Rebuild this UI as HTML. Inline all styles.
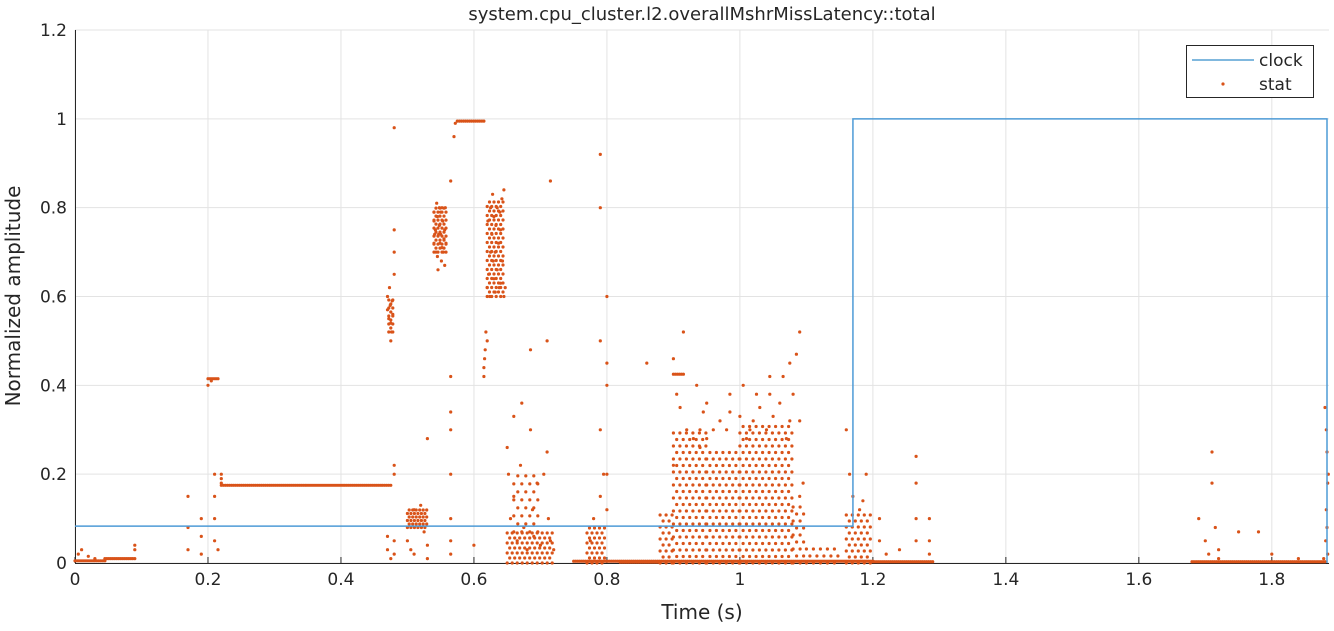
<!DOCTYPE html>
<html><head><meta charset="utf-8"><style>
body{margin:0;background:#fff;width:1334px;height:626px;overflow:hidden;font-family:"Liberation Sans","DejaVu Sans",sans-serif}
svg text{font-family:"DejaVu Sans","Liberation Sans",sans-serif;fill:#262626}
</style></head><body>
<svg id="chart" width="1334" height="626" xmlns="http://www.w3.org/2000/svg">
<g id="grid"></g>
<g id="axes"></g>
<g id="stat"></g>
<g id="clock"></g>
<text x="702" y="20" text-anchor="middle" font-size="18">system.cpu_cluster.l2.overallMshrMissLatency::total</text>
<text x="702" y="619" text-anchor="middle" font-size="20">Time (s)</text>
<text transform="translate(20,296) rotate(-90)" text-anchor="middle" font-size="20">Normalized amplitude</text>
<g>
<rect x="1186.5" y="45.5" width="127" height="52" fill="#fff" stroke="#262626" stroke-width="1"/>
<line x1="1192" y1="60" x2="1254" y2="60" stroke="#0072BD" stroke-width="1"/>
<text x="1259" y="66" font-size="17">clock</text>
<circle cx="1223" cy="84" r="1.6" fill="#D95319"/>
<text x="1259" y="90" font-size="17">stat</text>
</g>
</svg>
<script>
const xTicks=[0,0.2,0.4,0.6,0.8,1,1.2,1.4,1.6,1.8];
const xTickLabels=["0","0.2","0.4","0.6","0.8","1","1.2","1.4","1.6","1.8"];
const yTicks=[0,0.2,0.4,0.6,0.8,1,1.2];
const yTickLabels=["0","0.2","0.4","0.6","0.8","1","1.2"];
const clockX=[0,1.17,1.17,1.883,1.883];
const clockY=[0.083,0.083,1,1,0];
// flat runs of stat samples: [x start, x end, y]
const statRuns=[[0,0.045,0.005],[0.045,0.09,0.01],[0.22,0.475,0.175],[0.2,0.215,0.415],[0.575,0.615,0.995],[0.9,0.915,0.425],[1.68,1.88,0.003],[0.75,1.2,0.004],[0.82,0.88,0.002],[1.2,1.29,0.003]];
// dense clouds of stat samples: [x start, x end, y low, y high, spacing px]
const statBlocks=[[0.88,0.9,0,0.12,6],[0.9,0.95,0,0.3,6.5],[0.95,1.0,0,0.26,6.5],[1.0,1.08,0,0.32,6.5],[1.08,1.1,0,0.14,7],[1.1,1.15,0,0.04,7],[0.65,0.72,0,0.07,5],[0.66,0.7,0.07,0.2,8],[0.77,0.8,0,0.08,5],[1.16,1.2,0,0.12,6],[0.54,0.56,0.7,0.8,4],[0.62,0.645,0.6,0.82,4.5],[0.472,0.48,0.52,0.6,4],[0.5,0.53,0.08,0.12,3.5]];
const statPts=[
[0.005,0.02],[0.01,0.03],[0.02,0.015],[0.03,0.01],[0.09,0.03],[0.09,0.04],[0.17,0.15],[0.17,0.08],[0.17,0.03],[0.19,0.1],[0.19,0.06],[0.19,0.02],[0.2,0.4],[0.205,0.41],[0.21,0.2],[0.21,0.15],[0.21,0.1],[0.21,0.05],[0.215,0.03],[0.22,0.19],[0.22,0.2],[0.22,0.18],
[0.47,0.6],[0.472,0.55],[0.474,0.58],[0.476,0.52],[0.475,0.5],[0.47,0.57],[0.473,0.62],[0.477,0.59],[0.475,0.54],[0.478,0.56],[0.48,0.65],[0.48,0.7],[0.48,0.75],[0.48,0.98],[0.48,0.22],[0.48,0.2],[0.48,0.05],[0.48,0.02],[0.47,0.06],[0.47,0.03],[0.475,0.01],
[0.5,0.05],[0.505,0.03],[0.51,0.02],[0.51,0.12],[0.52,0.13],[0.525,0.07],[0.53,0.28],[0.53,0.04],[0.53,0.01],
[0.54,0.72],[0.542,0.75],[0.545,0.78],[0.548,0.8],[0.55,0.74],[0.552,0.71],[0.555,0.73],[0.545,0.69],[0.55,0.79],[0.54,0.77],[0.543,0.7],[0.547,0.74],[0.553,0.77],[0.557,0.8],[0.551,0.68],[0.546,0.66],[0.541,0.74],[0.544,0.81],[0.556,0.75],[0.549,0.72],[0.554,0.7],[0.558,0.72],[0.54,0.79],[0.548,0.76],[0.552,0.8],[0.556,0.67],
[0.565,0.86],[0.565,0.42],[0.565,0.34],[0.565,0.3],[0.565,0.2],[0.565,0.1],[0.565,0.05],[0.565,0.02],[0.57,0.96],[0.572,0.99],
[0.6,0.04],[0.615,0.44],[0.617,0.48],[0.618,0.52],[0.616,0.46],[0.62,0.5],[0.615,0.42],
[0.62,0.62],[0.622,0.65],[0.625,0.8],[0.628,0.83],[0.63,0.78],[0.632,0.7],[0.635,0.66],[0.638,0.62],[0.64,0.75],[0.642,0.82],[0.625,0.7],[0.63,0.64],[0.635,0.8],[0.64,0.63],[0.645,0.6],[0.627,0.74],[0.633,0.76],[0.637,0.72],[0.643,0.68],[0.621,0.77],[0.624,0.6],[0.629,0.68],[0.639,0.79],[0.645,0.84],[0.647,0.62],[0.632,0.61],
[0.65,0.26],[0.652,0.2],[0.655,0.1],[0.66,0.15],[0.665,0.05],[0.67,0.22],[0.675,0.08],[0.68,0.03],[0.685,0.48],[0.685,0.3],[0.688,0.12],[0.69,0.06],[0.695,0.18],[0.7,0.04],[0.705,0.2],[0.71,0.5],[0.71,0.25],[0.712,0.1],[0.715,0.86],[0.715,0.05],[0.72,0.03],[0.66,0.33],[0.672,0.36],
[0.775,0.05],[0.78,0.1],[0.79,0.92],[0.79,0.8],[0.79,0.5],[0.79,0.3],[0.79,0.15],[0.8,0.6],[0.8,0.45],[0.8,0.4],[0.8,0.2],[0.8,0.12],[0.795,0.2],
[0.905,0.38],[0.91,0.35],[0.915,0.52],[0.93,0.28],[0.94,0.3],[0.95,0.36],[0.97,0.32],[0.985,0.38],[1.005,0.4],[1.015,0.3],[1.03,0.35],[1.045,0.38],[1.065,0.42],[1.075,0.32],[1.09,0.52],
[0.92,0.3],[0.94,0.26],[0.95,0.28],[0.96,0.3],[0.98,0.3],[1,0.33],[1.01,0.28],[1.02,0.32],[1.04,0.3],[1.05,0.33],[1.06,0.36],[1.07,0.28],[1.08,0.38],[1.09,0.32],[0.935,0.4],[0.945,0.34],[0.985,0.34],[1.025,0.38],[1.045,0.42],[1.075,0.45],[1.085,0.47],[0.9,0.46],[0.86,0.45],[0.9,0.22],[1.09,0.15],[1.095,0.18],
[1.16,0.3],[1.165,0.2],[1.17,0.15],[1.18,0.12],[1.19,0.2],[1.185,0.14],[1.21,0.1],[1.21,0.05],[1.22,0.02],[1.24,0.03],[1.265,0.24],[1.265,0.18],[1.265,0.1],[1.265,0.05],[1.285,0.1],[1.285,0.05],[1.285,0.02],
[1.69,0.1],[1.7,0.05],[1.705,0.02],[1.71,0.25],[1.71,0.18],[1.715,0.08],[1.72,0.03],[1.72,0.01],[1.75,0.07],[1.78,0.07],[1.8,0.02],[1.84,0.01],
[1.88,0.35],[1.882,0.3],[1.883,0.25],[1.884,0.18],[1.882,0.12],[1.883,0.08],[1.881,0.05],[1.884,0.02],[1.878,0.01],[1.885,0.2]
];
const X0=75,X1=1329,Y0=563,Y1=30,XMAX=1.886,YMAX=1.2;
const sx=v=>X0+v/XMAX*(X1-X0);
const sy=v=>Y0-v/YMAX*(Y0-Y1);
const NS="http://www.w3.org/2000/svg";
function mk(tag,attrs,parent){const e=document.createElementNS(NS,tag);for(const k in attrs)e.setAttribute(k,attrs[k]);parent.appendChild(e);return e;}
const grid=document.getElementById('grid'),axes=document.getElementById('axes');
xTicks.forEach((t,i)=>{
 const gl=mk('line',{x1:sx(t),x2:sx(t),y1:Y1,y2:Y0,stroke:'#e3e3e3','stroke-width':1},grid);
 
 
 const tk=mk('line',{x1:sx(t),x2:sx(t),y1:Y0,y2:Y0-6,stroke:'#262626'},axes);
 
 
 const tl=mk('text',{x:sx(t),y:Y0+22,'text-anchor':'middle','font-size':17},axes);
 tl.textContent=xTickLabels[i];
 
 
});
yTicks.forEach((t,i)=>{
 const gl=mk('line',{x1:X0,x2:X1,y1:sy(t),y2:sy(t),stroke:'#e3e3e3','stroke-width':1},grid);
 
 
 const tl=mk('text',{x:X0-8,y:sy(t)+6,'text-anchor':'end','font-size':17},axes);
 tl.textContent=yTickLabels[i];
 
 
});
const xa=mk('line',{x1:X0,x2:X1,y1:Y0+0.5,y2:Y0+0.5,stroke:'#262626'},axes);


const ya=mk('line',{x1:X0+0.5,x2:X0+0.5,y1:Y1,y2:Y0,stroke:'#262626'},axes);


const sg=document.getElementById('stat');
function dotPx(px,py){const c=mk('circle',{cx:px.toFixed(1),cy:py.toFixed(1),r:1.6,fill:'#D95319'},sg);
 
 }
function dot(x,y){dotPx(sx(x),sy(y));}
statRuns.forEach(r=>{const n=Math.max(2,Math.round((sx(r[1])-sx(r[0]))/2));for(let i=0;i<=n;i++)dot(r[0]+(r[1]-r[0])*i/n,r[2]);});
statBlocks.forEach(b=>{
 const px0=sx(b[0]),px1=sx(b[1]),py0=sy(b[3]),py1=sy(b[2]),s=b[4];
 let row=0;
 for(let py=py1;py>=py0;py-=s,row++){
  for(let px=px0+(row%2)*s/2;px<=px1;px+=s)dotPx(px,py);
 }
});
statPts.forEach(p=>dot(p[0],p[1]));
const cl=mk('polyline',{points:clockX.map((x,i)=>sx(x)+','+sy(clockY[i])).join(' '),fill:'none',stroke:'#4d9bd6','stroke-width':1.5},document.getElementById('clock'));


</script>
</body></html>
